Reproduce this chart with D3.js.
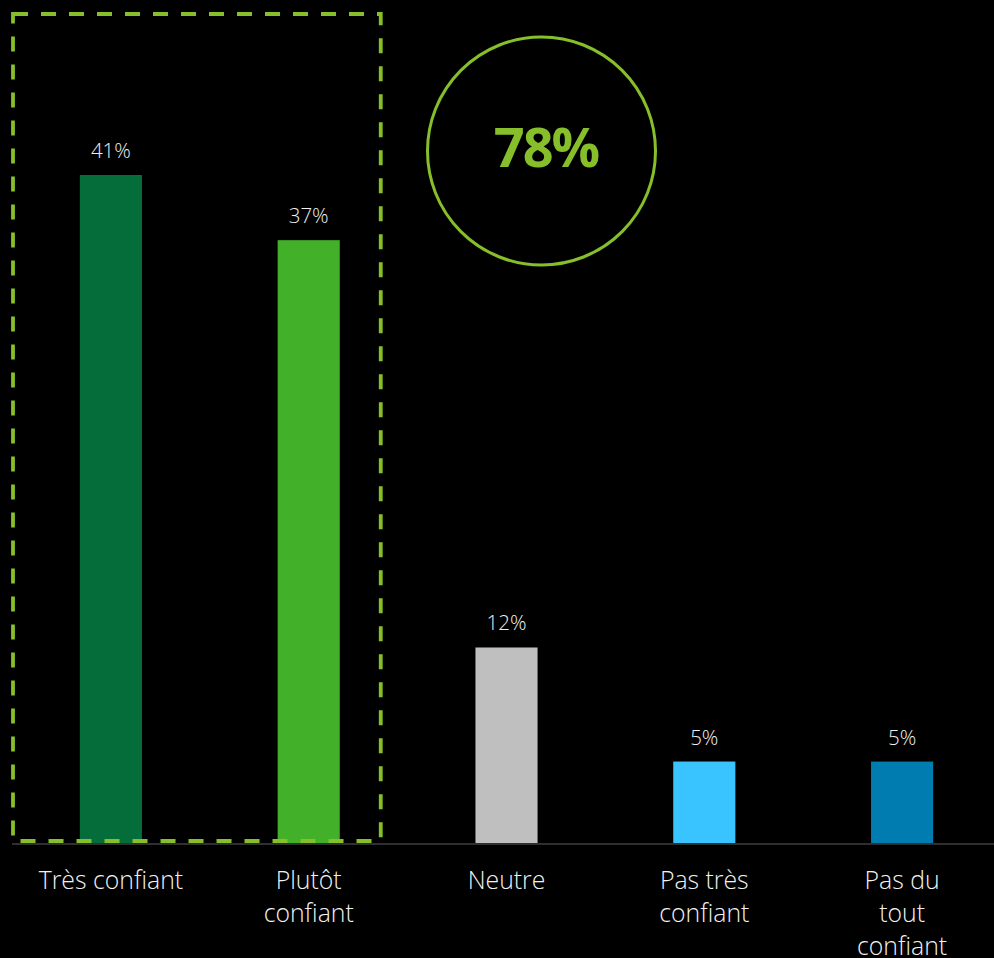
<!DOCTYPE html>
<html>
<head>
<meta charset="utf-8">
<script src="https://cdn.jsdelivr.net/npm/d3@7"></script>
<style>
  html, body { margin: 0; padding: 0; background: #000; }
  svg { display: block; }
</style>
</head>
<body>
<svg id="chart" width="994" height="958"></svg>
<script>
// Confidence survey: share of respondents per answer
const categories = ["Très confiant", "Plutôt confiant", "Neutre", "Pas très confiant", "Pas du tout confiant"];
const categoryLines = [["Très confiant"], ["Plutôt", "confiant"], ["Neutre"], ["Pas très", "confiant"], ["Pas du", "tout", "confiant"]];
const values = [41, 37, 12, 5, 5];
const barColors = ["#056d39", "#43b02a", "#bfbfbf", "#3ac4ff", "#007cb0"];
const highlightedCount = 2;   // first two answers are grouped as "confident"
const totalLabel = "78%";

const W = 994, H = 958;
const baseY = 843;
const svg = d3.select("#chart");
svg.append("rect").attr("width", W).attr("height", H).attr("fill", "#000");

const x = d3.scaleBand()
  .domain(categories)
  .range([12, 1001])
  .paddingInner(0.686)
  .paddingOuter(0.343);

const y = d3.scaleLinear()
  .domain([0, 41])
  .range([baseY, baseY - 668]);

const font = "'Open Sans', 'Segoe UI', sans-serif";
const green = "#86bf2a";

// bars
svg.selectAll("rect.bar")
  .data(values)
  .join("rect")
  .attr("class", "bar")
  .attr("x", (d, i) => x(categories[i]))
  .attr("y", d => y(d))
  .attr("width", x.bandwidth())
  .attr("height", d => y(0) - y(d))
  .attr("fill", (d, i) => barColors[i]);

// value labels
svg.selectAll("text.val")
  .data(values)
  .join("text")
  .attr("class", "val")
  .attr("x", (d, i) => x(categories[i]) + x.bandwidth() / 2)
  .attr("y", d => y(d) - 17)
  .attr("text-anchor", "middle")
  .attr("font-family", font)
  .attr("font-weight", 300)
  .attr("font-size", 20.5)
  .attr("fill", "#f0f0f0")
  .text(d => d + "%");

// baseline axis
const axis = svg.append("g")
  .attr("transform", `translate(0,${baseY + 1})`)
  .call(d3.axisBottom(x).tickSize(0).tickFormat(""));
axis.select(".domain").attr("stroke", "#3f3f3f").attr("stroke-width", 1.5)
  .attr("d", `M12,0H${W}`);

// category labels (wrapped)
const labels = svg.selectAll("text.cat")
  .data(categories)
  .join("text")
  .attr("class", "cat")
  .attr("text-anchor", "middle")
  .attr("font-family", font)
  .attr("font-weight", 300)
  .attr("font-size", 24.8)
  .attr("fill", "#f2f2f2");
labels.each(function(c, i) {
  const cx = x(c) + x.bandwidth() / 2;
  d3.select(this).selectAll("tspan")
    .data(categoryLines[i])
    .join("tspan")
    .attr("x", cx)
    .attr("y", (l, j) => 889 + j * 33)
    .text(l => l);
});

// dashed frame around the "confident" answers
const frameRight = x(categories[highlightedCount - 1]) + x.bandwidth() + 41;
svg.append("rect")
  .attr("x", 13)
  .attr("y", 14)
  .attr("width", frameRight - 13)
  .attr("height", 841 - 14)
  .attr("fill", "none")
  .attr("stroke", green)
  .attr("stroke-width", 3.8)
  .attr("stroke-dasharray", "15 13");

// total of the "confident" answers
const cx = 541.5, cy = 151;
svg.append("circle")
  .attr("cx", cx).attr("cy", cy).attr("r", 114)
  .attr("fill", "none")
  .attr("stroke", green)
  .attr("stroke-width", 3);
svg.append("text")
  .attr("x", cx + 4.5).attr("y", 167)
  .attr("text-anchor", "middle")
  .attr("font-family", font)
  .attr("font-weight", 700)
  .attr("font-size", 54)
  .attr("letter-spacing", -2)
  .attr("fill", green)
  .text(totalLabel);
</script>
</body>
</html>
